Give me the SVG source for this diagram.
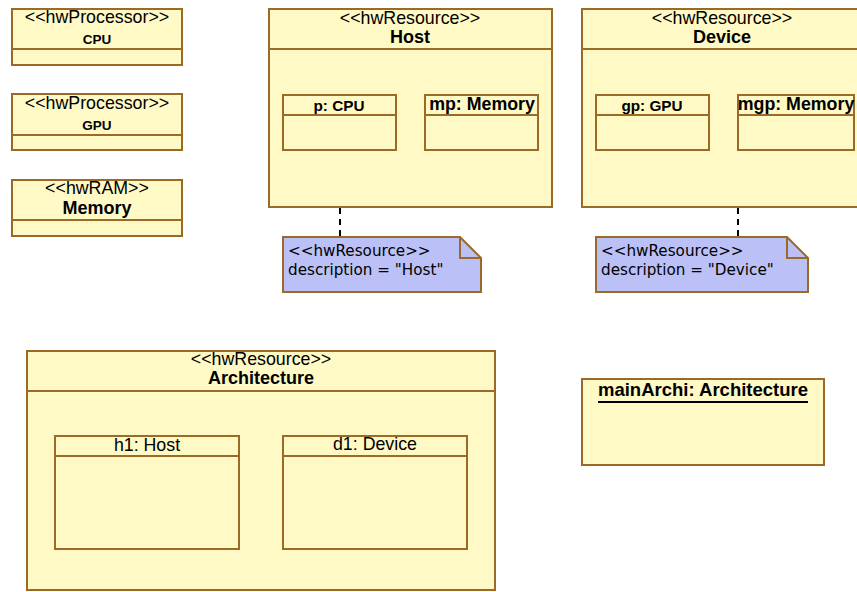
<svg xmlns="http://www.w3.org/2000/svg" width="857" height="592" viewBox="0 0 857 592">
<style>
.box{fill:#FFF9C6;stroke:#9B6A26;stroke-width:2}
.ln{stroke:#9B6A26;stroke-width:2;fill:none}
.note{fill:#BBC0F6;stroke:#9B6A26;stroke-width:2}
.st{font-family:"Liberation Sans",Arial,sans-serif;font-size:17.8px;fill:#000;text-anchor:middle}
.tb{font-family:"Liberation Sans",Arial,sans-serif;font-size:18px;font-weight:bold;fill:#000;text-anchor:middle}
.sb{font-family:"Liberation Sans",Arial,sans-serif;font-size:13.5px;font-weight:bold;fill:#000;text-anchor:middle}
.cb{font-family:"Liberation Sans",Arial,sans-serif;font-size:15.3px;font-weight:bold;fill:#000;text-anchor:middle}
.pb{font-family:"Liberation Sans",Arial,sans-serif;font-size:17.8px;font-weight:bold;fill:#000;text-anchor:middle}
.nt{font-family:"DejaVu Sans",sans-serif;font-size:15.2px;fill:#000}
.dash{stroke:#000;stroke-width:2;stroke-dasharray:6,5;fill:none}
</style>
<g id="connectors">
<line class="dash" x1="340" y1="208" x2="340" y2="236"/>
<line class="dash" x1="738" y1="208" x2="738" y2="236"/>
</g>
<g id="cpu">
<rect class="box" x="12" y="9" width="170" height="56"/>
<line class="ln" x1="12" y1="49" x2="182" y2="49"/>
<text class="st" x="97" y="23">&lt;&lt;hwProcessor&gt;&gt;</text>
<text class="sb" x="97" y="44">CPU</text>
</g>
<g id="gpu">
<rect class="box" x="12" y="94" width="170" height="56"/>
<line class="ln" x1="12" y1="135" x2="182" y2="135"/>
<text class="st" x="97" y="109">&lt;&lt;hwProcessor&gt;&gt;</text>
<text class="sb" x="97" y="130">GPU</text>
</g>
<g id="memory">
<rect class="box" x="12" y="180" width="170" height="56"/>
<line class="ln" x1="12" y1="220" x2="182" y2="220"/>
<text class="st" x="97" y="194">&lt;&lt;hwRAM&gt;&gt;</text>
<text class="tb" x="97" y="214">Memory</text>
</g>
<g id="host">
<rect class="box" x="269" y="9" width="283" height="198"/>
<line class="ln" x1="269" y1="49" x2="552" y2="49"/>
<text class="st" x="410" y="24">&lt;&lt;hwResource&gt;&gt;</text>
<text class="tb" x="410" y="43">Host</text>
<g id="host-p">
<rect class="box" x="283" y="95" width="113" height="55"/>
<line class="ln" x1="283" y1="115" x2="396" y2="115"/>
<text class="cb" x="339" y="111">p: CPU</text>
</g>
<g id="host-mp">
<rect class="box" x="425" y="95" width="113" height="55"/>
<line class="ln" x1="425" y1="115" x2="538" y2="115"/>
<text class="pb" x="482" y="110">mp: Memory</text>
</g>
</g>
<g id="device">
<rect class="box" x="582" y="9" width="283" height="198"/>
<line class="ln" x1="582" y1="49" x2="865" y2="49"/>
<text class="st" x="722" y="24">&lt;&lt;hwResource&gt;&gt;</text>
<text class="tb" x="722" y="43">Device</text>
<g id="device-gp">
<rect class="box" x="596" y="95" width="113" height="55"/>
<line class="ln" x1="596" y1="115" x2="709" y2="115"/>
<text class="cb" x="652" y="111">gp: GPU</text>
</g>
<g id="device-mgp">
<rect class="box" x="738" y="95" width="116" height="55"/>
<line class="ln" x1="738" y1="115" x2="854" y2="115"/>
<text class="pb" x="796" y="110">mgp: Memory</text>
</g>
</g>
<g id="note-host">
<path class="note" d="M283,237 H460 L481,258 V292 H283 Z"/>
<path class="ln" d="M460,237 V258 H481"/>
<text class="nt" x="288" y="256">&lt;&lt;hwResource&gt;&gt;</text>
<text class="nt" x="288" y="275">description = "Host"</text>
</g>
<g id="note-device">
<path class="note" d="M596,237 H787 L808,258 V292 H596 Z"/>
<path class="ln" d="M787,237 V258 H808"/>
<text class="nt" x="601" y="256">&lt;&lt;hwResource&gt;&gt;</text>
<text class="nt" x="601" y="275">description = "Device"</text>
</g>
<g id="architecture">
<rect class="box" x="27" y="351" width="468" height="239"/>
<line class="ln" x1="27" y1="391" x2="495" y2="391"/>
<text class="st" x="261" y="365">&lt;&lt;hwResource&gt;&gt;</text>
<text class="tb" x="261" y="384">Architecture</text>
<g id="arch-h1">
<rect class="box" x="55" y="436" width="184" height="113"/>
<line class="ln" x1="55" y1="456" x2="239" y2="456"/>
<text class="st" x="147" y="451">h1: Host</text>
</g>
<g id="arch-d1">
<rect class="box" x="283" y="436" width="184" height="113"/>
<line class="ln" x1="283" y1="456" x2="467" y2="456"/>
<text class="st" x="375" y="450">d1: Device</text>
</g>
</g>
<g id="mainArchi">
<rect class="box" x="582" y="379" width="242" height="86"/>
<text class="tb" x="703" y="396" style="font-size:18.5px">mainArchi: Architecture</text>
<line x1="598" y1="402" x2="808" y2="402" stroke="#000" stroke-width="2"/>
</g>
</svg>
